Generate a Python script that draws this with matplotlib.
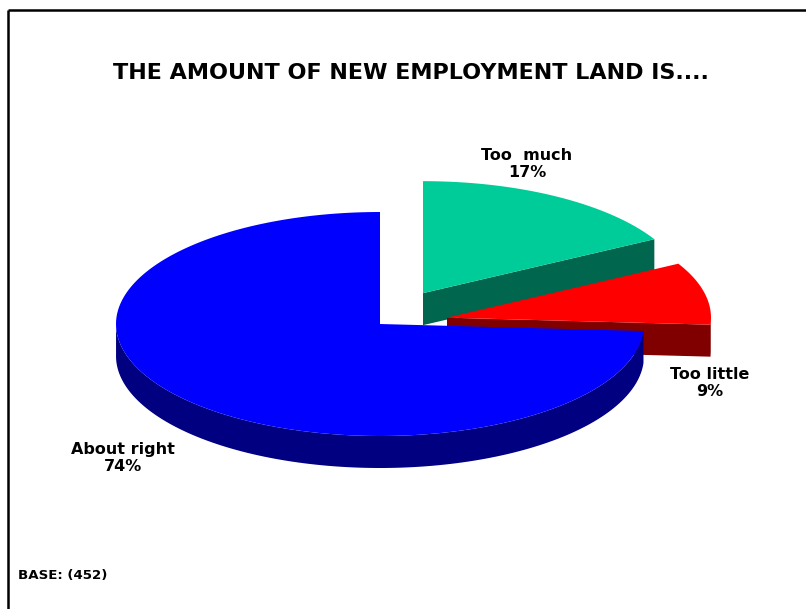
import numpy as np
import matplotlib.pyplot as plt
from matplotlib.patches import Polygon

# Survey answers (share of respondents, %)
labels = ["Too  much", "Too little", "About right"]
shares = [17, 9, 74]
base_n = 452

top_colors = ["#00CC99", "#FF0000", "#0000FF"]
side_colors = ["#00664D", "#800000", "#000080"]
explode = [0.32, 0.26, 0.0]

W, H = 806, 609
fig = plt.figure(figsize=(W / 100, H / 100), dpi=100)
ax = fig.add_axes([0, 0, 1, 1])
ax.set_xlim(0, W)
ax.set_ylim(H, 0)
ax.axis("off")

# pie geometry in pixel space (tilted disc)
cx, cy = 380, 324
rx, ry = 264, 112
depth = 32


def pt(c, a):
    return c[0] + rx * np.cos(a), c[1] - ry * np.sin(a)


# slices run clockwise starting at 12 o'clock
angles = []
start = 90.0
for s in shares:
    end = start - s * 3.6
    angles.append((start, end))
    start = end

for i, (a0, a1) in enumerate(angles):
    mid = np.radians((a0 + a1) / 2)
    e = explode[i]
    c = (cx + e * rx * np.cos(mid), cy - e * ry * np.sin(mid))
    t0, t1 = np.radians(a1), np.radians(a0)  # ccw from t0 to t1

    # outer wall, front half only
    ts = np.linspace(t0, t1, 200)
    front = ts[np.sin(ts % (2 * np.pi)) <= 0.001]
    if len(front) > 1:
        xs, ys = pt(c, front)
        wall = list(zip(xs, ys)) + list(zip(xs[::-1], ys[::-1] + depth))
        ax.add_patch(Polygon(wall, closed=True, fc=side_colors[i], ec="none"))

    # cut faces that turn towards the viewer
    for edge, normal in ((t0, t0 - np.pi / 2), (t1, t1 + np.pi / 2)):
        if np.sin(normal) < -0.01:
            ex, ey = pt(c, edge)
            face = [c, (ex, ey), (ex, ey + depth), (c[0], c[1] + depth)]
            ax.add_patch(Polygon(face, closed=True, fc=side_colors[i], ec="none"))

    # top face
    xs, ys = pt(c, ts)
    top = [c] + list(zip(xs, ys))
    ax.add_patch(Polygon(top, closed=True, fc=top_colors[i], ec="none"))

# slice labels
label_pos = [(527, 164), (710, 383), (123, 458)]
for lab, s, (lx, ly) in zip(labels, shares, label_pos):
    ax.text(lx, ly, f"{lab}\n{s}%", ha="center", va="center",
            fontsize=11.5, fontweight="bold", family="DejaVu Sans",
            linespacing=1.1)

ax.text(411, 73, "THE AMOUNT OF NEW EMPLOYMENT LAND IS....", ha="center",
        va="center", fontsize=16, fontweight="bold", family="DejaVu Sans")
ax.text(18, 575, f"BASE: ({base_n})", ha="left", va="center",
        fontsize=9.6, fontweight="bold", family="DejaVu Sans")

# frame lines along the top and left
ax.plot([8, 8], [10, H], color="black", lw=1.8, solid_capstyle="butt")
ax.plot([8, W], [10, 10], color="black", lw=1.8, solid_capstyle="butt")

fig.savefig("out.png", dpi=100)
